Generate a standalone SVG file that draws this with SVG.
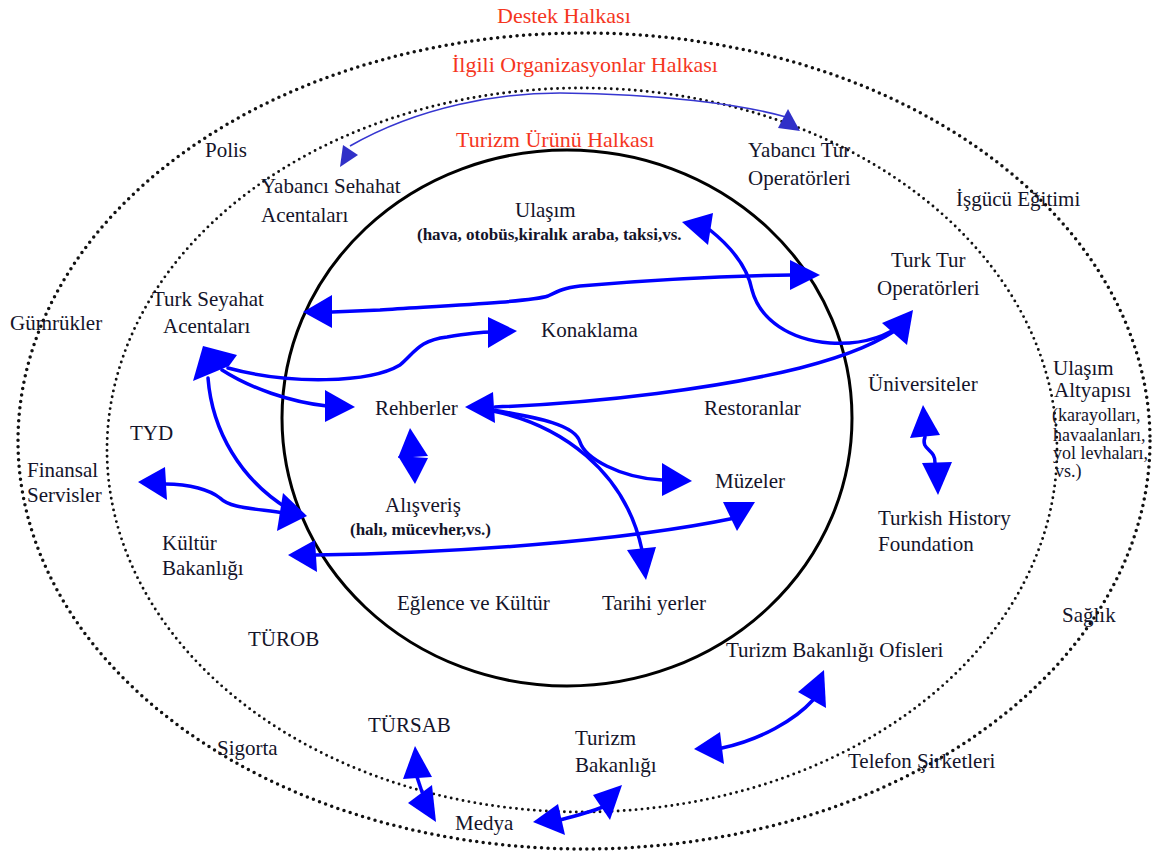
<svg xmlns="http://www.w3.org/2000/svg" width="1171" height="856" viewBox="0 0 1171 856">
<style>
.t{font-family:"Liberation Serif","Times New Roman",serif;font-size:21px;fill:#14142a}
.s{font-size:18px}
.b{font-size:17px;font-weight:bold}
.red{font-family:"Liberation Serif","Times New Roman",serif;font-size:22px;fill:#f5361e}
.ring1{fill:none;stroke:#111;stroke-width:3.5;stroke-dasharray:0 6.5;stroke-linecap:round}
.ring2{fill:none;stroke:#111;stroke-width:2.9;stroke-dasharray:0 6;stroke-linecap:round}
.ring3{fill:none;stroke:#000;stroke-width:3}
.c{fill:none;stroke:#0000ff;stroke-width:3.5;stroke-linecap:round}
.thin{fill:none;stroke:#3636d0;stroke-width:1.6}
.ah{fill:#0000ff}
.ah2{fill:#3030c8}
</style>
<rect width="1171" height="856" fill="#fff"/>
<g id="ring-destek">
<ellipse class="ring1" cx="584" cy="441" rx="566" ry="408"/>
<text class="red" x="497" y="23">Destek Halkası</text>
</g>
<g id="ring-ilgili">
<ellipse class="ring2" cx="582" cy="450" rx="475" ry="362"/>
<text class="red" x="452" y="72">İlgili Organizasyonlar Halkası</text>
</g>
<g id="ring-turizm-urunu">
<ellipse class="ring3" cx="567" cy="418" rx="285" ry="268"/>
<text class="red" x="456" y="147">Turizm Ürünü Halkası</text>
</g>
<g id="connectors">
<path class="thin" d="M350,146 C420,106 500,93 560,93 C660,94 740,104 786,117"/>
<polygon class="ah2" points="340,167 343,145 358,155"/>
<polygon class="ah2" points="788,109 778,128 800,131"/>
<path class="c" d="M332,312 L380,310 C440,306 530,302 548,296 C560,290 565,288 580,286 C650,280 720,276 792,275"/>
<polygon class="ah" points="303,312 332,295 332,328"/>
<polygon class="ah" points="820,275 790,260 790,290"/>
<path class="c" d="M228,368 C290,385 370,383 400,365 C415,352 420,340 447,337 C465,334 480,332 492,332"/>
<polygon class="ah" points="517,331 488,317 488,348"/>
<path class="c" d="M222,370 C250,388 290,402 327,406"/>
<polygon class="ah" points="355,407 325,390 325,422"/>
<path class="c" d="M208,378 C212,430 240,480 290,510"/>
<path class="c" d="M165,484 C190,484 210,490 220,498 C230,508 250,508 285,513"/>
<polygon class="ah" points="307,516 283,493 277,531"/>
<polygon class="ah" points="138,482 165,467 167,500"/>
<polygon class="ah" points="193,381 203,346 237,355 229,366"/>
<path class="c" d="M315,555 C450,553 620,542 735,518"/>
<polygon class="ah" points="288,555 315,540 317,572"/>
<polygon class="ah" points="723,502 755,502 737,531"/>
<path class="c" d="M710,230 C735,250 748,270 752,290 C760,320 790,340 830,343 C860,345 885,338 905,322"/>
<polygon class="ah" points="682,222 713,213 708,245"/>
<path class="c" d="M495,407 C600,403 720,388 800,368 C850,355 880,342 905,324"/>
<polygon class="ah" points="465,407 493,392 495,423"/>
<polygon class="ah" points="913,310 882,323 907,345"/>
<path class="c" d="M493,411 C560,425 625,470 642,550"/>
<polygon class="ah" points="646,580 627,550 656,547"/>
<path class="c" d="M493,410 C540,418 575,425 580,442 C585,458 620,478 662,480"/>
<polygon class="ah" points="692,481 662,463 662,496"/>
<polygon class="ah" points="410,428 398,458 428,456"/>
<polygon class="ah" points="398,456 428,458 415,484"/>
<path class="c" d="M925,437 C920,450 936,449 935,463"/>
<polygon class="ah" points="923,405 940,435 910,438"/>
<polygon class="ah" points="922,463 952,462 938,495"/>
<path class="c" d="M722,748 C760,740 795,720 813,700"/>
<polygon class="ah" points="798,692 824,670 826,708"/>
<polygon class="ah" points="694,749 720,732 724,764"/>
<path class="c" d="M417,777 L422,792"/>
<polygon class="ah" points="415,746 403,779 432,777"/>
<polygon class="ah" points="408,803 432,785 436,822"/>
<path class="c" d="M560,820 C575,816 590,812 603,807"/>
<polygon class="ah" points="533,822 558,804 565,835"/>
<polygon class="ah" points="593,795 622,785 610,820"/>
</g>
<g id="polis"><text class="t" x="205" y="157">Polis</text></g>
<g id="yabanci-sehahat"><text class="t" x="261" y="193">Yabancı Sehahat</text><text class="t" x="261" y="222">Acentaları</text></g>
<g id="yabanci-tur"><text class="t" x="748" y="157">Yabancı Tur</text><text class="t" x="748" y="185">Operatörleri</text></g>
<g id="isgucu"><text class="t" x="956" y="206">İşgücü Eğitimi</text></g>
<g id="ulasim"><text class="t" x="515" y="217">Ulaşım</text><text class="t b" x="417" y="240">(hava, otobüs,kiralık araba, taksi,vs.</text></g>
<g id="turk-tur"><text class="t" x="891" y="267">Turk Tur</text><text class="t" x="877" y="295">Operatörleri</text></g>
<g id="turk-seyahat"><text class="t" x="152" y="306">Turk Seyahat</text><text class="t" x="163" y="333">Acentaları</text></g>
<g id="gumrukler"><text class="t" x="10" y="330">Gümrükler</text></g>
<g id="konaklama"><text class="t" x="541" y="337">Konaklama</text></g>
<g id="ulasim-altyapisi"><text class="t" x="1053" y="375">Ulaşım</text><text class="t" x="1054" y="397">Altyapısı</text><text class="t s" x="1052" y="421">(karayolları,</text><text class="t s" x="1053" y="441">havaalanları,</text><text class="t s" x="1053" y="459">yol levhaları,</text><text class="t s" x="1055" y="477">vs.)</text></g>
<g id="universiteler"><text class="t" x="868" y="391">Üniversiteler</text></g>
<g id="rehberler"><text class="t" x="375" y="415">Rehberler</text></g>
<g id="restoranlar"><text class="t" x="704" y="415">Restoranlar</text></g>
<g id="tyd"><text class="t" x="130" y="440">TYD</text></g>
<g id="finansal"><text class="t" x="27" y="477">Finansal</text><text class="t" x="27" y="502">Servisler</text></g>
<g id="muzeler"><text class="t" x="715" y="488">Müzeler</text></g>
<g id="alisveris"><text class="t" x="385" y="512">Alışveriş</text><text class="t b" x="350" y="535">(halı, mücevher,vs.)</text></g>
<g id="turkish-history"><text class="t" x="878" y="525">Turkish History</text><text class="t" x="878" y="551">Foundation</text></g>
<g id="kultur"><text class="t" x="162" y="550">Kültür</text><text class="t" x="162" y="575">Bakanlığı</text></g>
<g id="eglence"><text class="t" x="397" y="610">Eğlence ve Kültür</text></g>
<g id="tarihi"><text class="t" x="602" y="610">Tarihi yerler</text></g>
<g id="saglik"><text class="t" x="1062" y="622">Sağlık</text></g>
<g id="turob"><text class="t" x="248" y="646">TÜROB</text></g>
<g id="tb-ofisleri"><text class="t" x="726" y="657">Turizm Bakanlığı Ofisleri</text></g>
<g id="tursab"><text class="t" x="368" y="732">TÜRSAB</text></g>
<g id="turizm-bakanligi"><text class="t" x="575" y="745">Turizm</text><text class="t" x="575" y="772">Bakanlığı</text></g>
<g id="sigorta"><text class="t" x="217" y="755">Sigorta</text></g>
<g id="telefon"><text class="t" x="848" y="768">Telefon Şirketleri</text></g>
<g id="medya"><text class="t" x="455" y="830">Medya</text></g>
</svg>
